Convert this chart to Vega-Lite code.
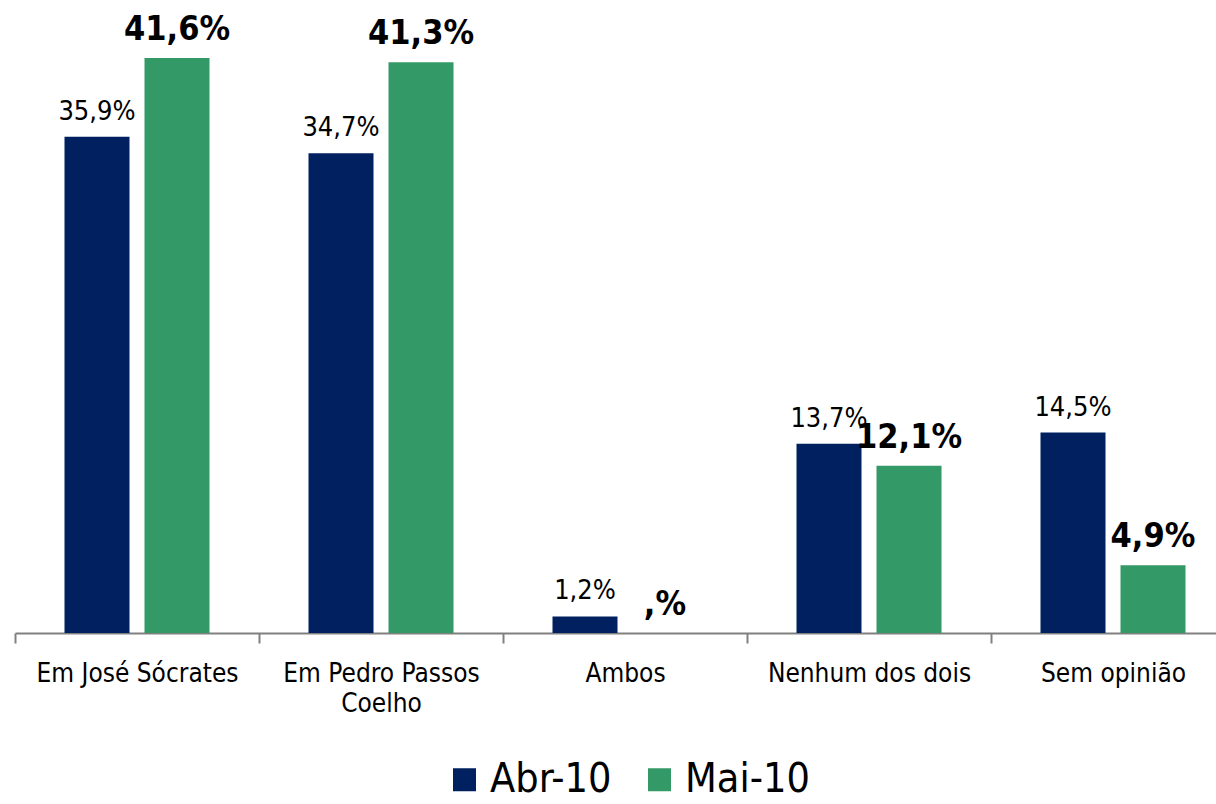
{
  "$schema": "https://vega.github.io/schema/vega-lite/v6.json",
  "width": 1220,
  "height": 622,
  "autosize": {"type": "none"},
  "padding": {"left": 15, "top": 11, "right": 0, "bottom": 171},
  "background": "white",
  "config": {"view": {"stroke": null}, "font": "DejaVu Sans Condensed"},
  "data": {
    "values": [
      {"cat": "Em José Sócrates", "period": "Abr-10", "value": 35.9, "label": "35,9%"},
      {"cat": "Em José Sócrates", "period": "Mai-10", "value": 41.6, "label": "41,6%"},
      {"cat": "Em Pedro Passos Coelho", "period": "Abr-10", "value": 34.7, "label": "34,7%"},
      {"cat": "Em Pedro Passos Coelho", "period": "Mai-10", "value": 41.3, "label": "41,3%"},
      {"cat": "Ambos", "period": "Abr-10", "value": 1.2, "label": "1,2%"},
      {"cat": "Ambos", "period": "Mai-10", "value": 0, "label": ",%"},
      {"cat": "Nenhum dos dois", "period": "Abr-10", "value": 13.7, "label": "13,7%"},
      {"cat": "Nenhum dos dois", "period": "Mai-10", "value": 12.1, "label": "12,1%"},
      {"cat": "Sem opinião", "period": "Abr-10", "value": 14.5, "label": "14,5%"},
      {"cat": "Sem opinião", "period": "Mai-10", "value": 4.9, "label": "4,9%"}
    ]
  },
  "encoding": {
    "x": {
      "field": "cat", "type": "nominal", "sort": null,
      "scale": {"paddingInner": 0, "paddingOuter": 0},
      "axis": {
        "title": null, "labelAngle": 0, "domainColor": "#808080", "domainWidth": 2,
        "tickColor": "#808080", "tickWidth": 2, "tickSize": 10, "tickBand": "extent",
        "labelFontSize": 26, "labelColor": "#000000", "labelPadding": 17,
        "labelLineHeight": 30, "labelFont": "DejaVu Sans Condensed", "labelLimit": 0,
        "labelExpr": "datum.label == 'Em Pedro Passos Coelho' ? ['Em Pedro Passos', 'Coelho'] : datum.label"
      }
    },
    "xOffset": {
      "field": "period", "type": "nominal",
      "scale": {"paddingInner": 0.1875, "paddingOuter": 0.61875}
    },
    "y": {
      "field": "value", "type": "quantitative",
      "scale": {"domain": [0, 45], "nice": false},
      "axis": null
    }
  },
  "layer": [
    {
      "mark": {"type": "bar"},
      "encoding": {
        "color": {
          "field": "period", "type": "nominal",
          "scale": {"domain": ["Abr-10", "Mai-10"], "range": ["#002060", "#339966"]},
          "legend": {
            "title": null, "orient": "none", "direction": "horizontal",
            "legendX": 429, "legendY": 748,
            "symbolType": "square", "symbolSize": 529, "symbolStrokeWidth": 0,
            "labelFontSize": 41, "labelColor": "#000000", "labelFont": "DejaVu Sans Condensed",
            "columnPadding": 27, "labelOffset": 5, "symbolOffset": 0
          }
        }
      }
    },
    {
      "transform": [{"filter": "datum.period == 'Abr-10'"}],
      "mark": {"type": "text", "baseline": "alphabetic", "dy": -17, "fontSize": 27, "color": "#000000"},
      "encoding": {"text": {"field": "label"}}
    },
    {
      "transform": [{"filter": "datum.period == 'Mai-10'"}],
      "mark": {"type": "text", "baseline": "alphabetic", "dy": -18, "fontSize": 34, "fontWeight": "bold", "color": "#000000"},
      "encoding": {"text": {"field": "label"}}
    }
  ]
}
